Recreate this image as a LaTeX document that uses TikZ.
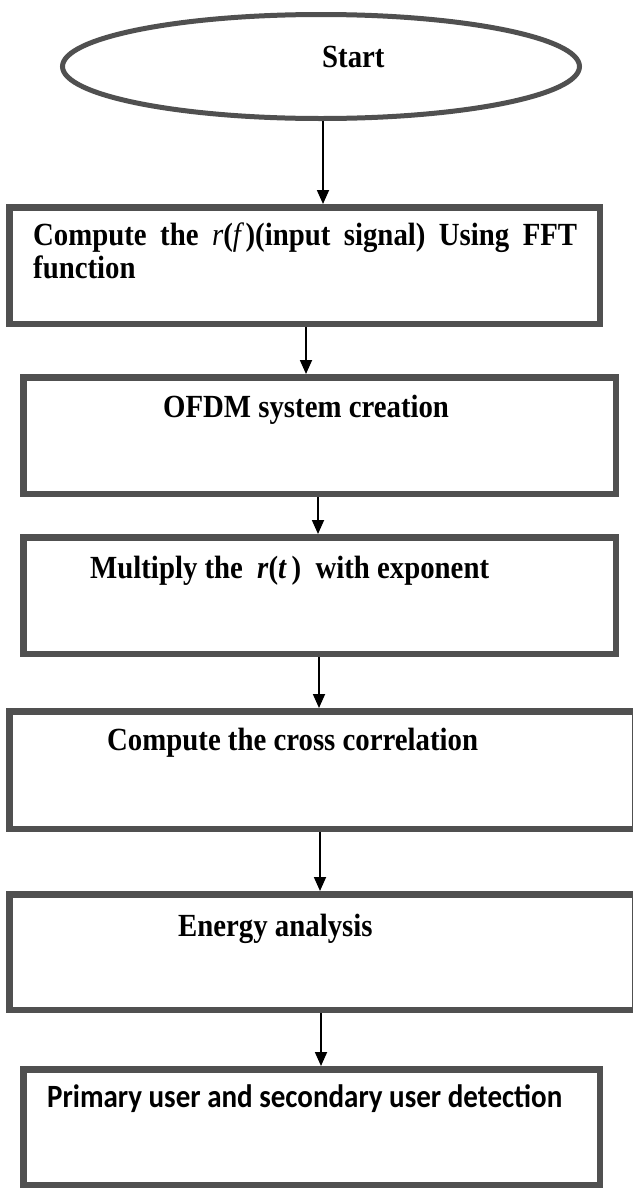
\documentclass[tikz,border=0pt]{standalone}
\usepackage{fontspec}
\setmainfont{Liberation Serif}
\newfontfamily\calibrilike{Carlito}
\usetikzlibrary{shapes.geometric,arrows.meta}
\definecolor{edgegray}{RGB}{80,80,80}
\begin{document}
\begin{tikzpicture}[x=1pt,y=-1pt,
  box/.style={draw=edgegray,line width=6.5pt,rectangle,inner sep=0pt,outer sep=3.25pt,fill=white},
  startshape/.style={draw=edgegray,line width=5pt,ellipse,inner sep=0pt,outer sep=2.5pt,fill=white},
  lbl/.style={anchor=base west,inner sep=0pt,yscale=1.12,transform shape,
    font=\fontsize{28.8}{29}\selectfont\bfseries},
  arr/.style={draw=black,line width=1.8pt,-{Triangle[width=12pt,length=14pt]}}]
\useasboundingbox (0,0) rectangle (632,1189);

% terminator
\node[startshape,minimum width=517pt,minimum height=104pt] (st) at (321,66.5) {};

% process boxes
\node[box,minimum width=590.5pt,minimum height=116.5pt] (b1) at (304.5,265.5) {};
\node[box,minimum width=592.5pt,minimum height=116.5pt] (b2) at (319.5,435.5) {};
\node[box,minimum width=592.5pt,minimum height=116.5pt] (b3) at (319.5,595.5) {};
\node[box,minimum width=625.5pt,minimum height=117.5pt] (b4) at (322,770) {};
\node[box,minimum width=625.5pt,minimum height=115.5pt] (b5) at (322,952) {};
\node[box,minimum width=576.5pt,minimum height=115.5pt] (b6) at (311.5,1127) {};

% labels
\node[lbl] (tst) at (322,67) {Start};
\node[lbl,align=left] (t1) at (33,278)
  {\makebox[544pt][s]{Compute the {\mdseries\itshape r}(\mbox{\mdseries\itshape f}\,)(input signal) Using FFT}\\function};
\node[lbl] (t2) at (163,417) {OFDM system creation};
\node[lbl] (t3) at (90,578) {Multiply the\hspace{7pt} \textit{r}(\textit{t}\,)\hspace{7pt} with exponent};
\node[lbl] (t4) at (107,750) {Compute the cross correlation};
\node[lbl] (t5) at (178,936) {Energy analysis};
\node[lbl,font=\fontsize{29}{30}\selectfont\calibrilike\bfseries] (t6) at (47,1107) {Primary user and secondary user detection};

% connectors
\coordinate (x1) at (323,0);
\coordinate (x2) at (306,0);
\coordinate (x3) at (318,0);
\coordinate (x4) at (319,0);
\coordinate (x5) at (320,0);
\coordinate (x6) at (321,0);
\draw[arr] (st.south -| x1) -- (b1.north -| x1);
\draw[arr] (b1.south -| x2) -- (b2.north -| x2);
\draw[arr] (b2.south -| x3) -- (b3.north -| x3);
\draw[arr] (b3.south -| x4) -- (b4.north -| x4);
\draw[arr] (b4.south -| x5) -- (b5.north -| x5);
\draw[arr] (b5.south -| x6) -- (b6.north -| x6);
\end{tikzpicture}
\end{document}
